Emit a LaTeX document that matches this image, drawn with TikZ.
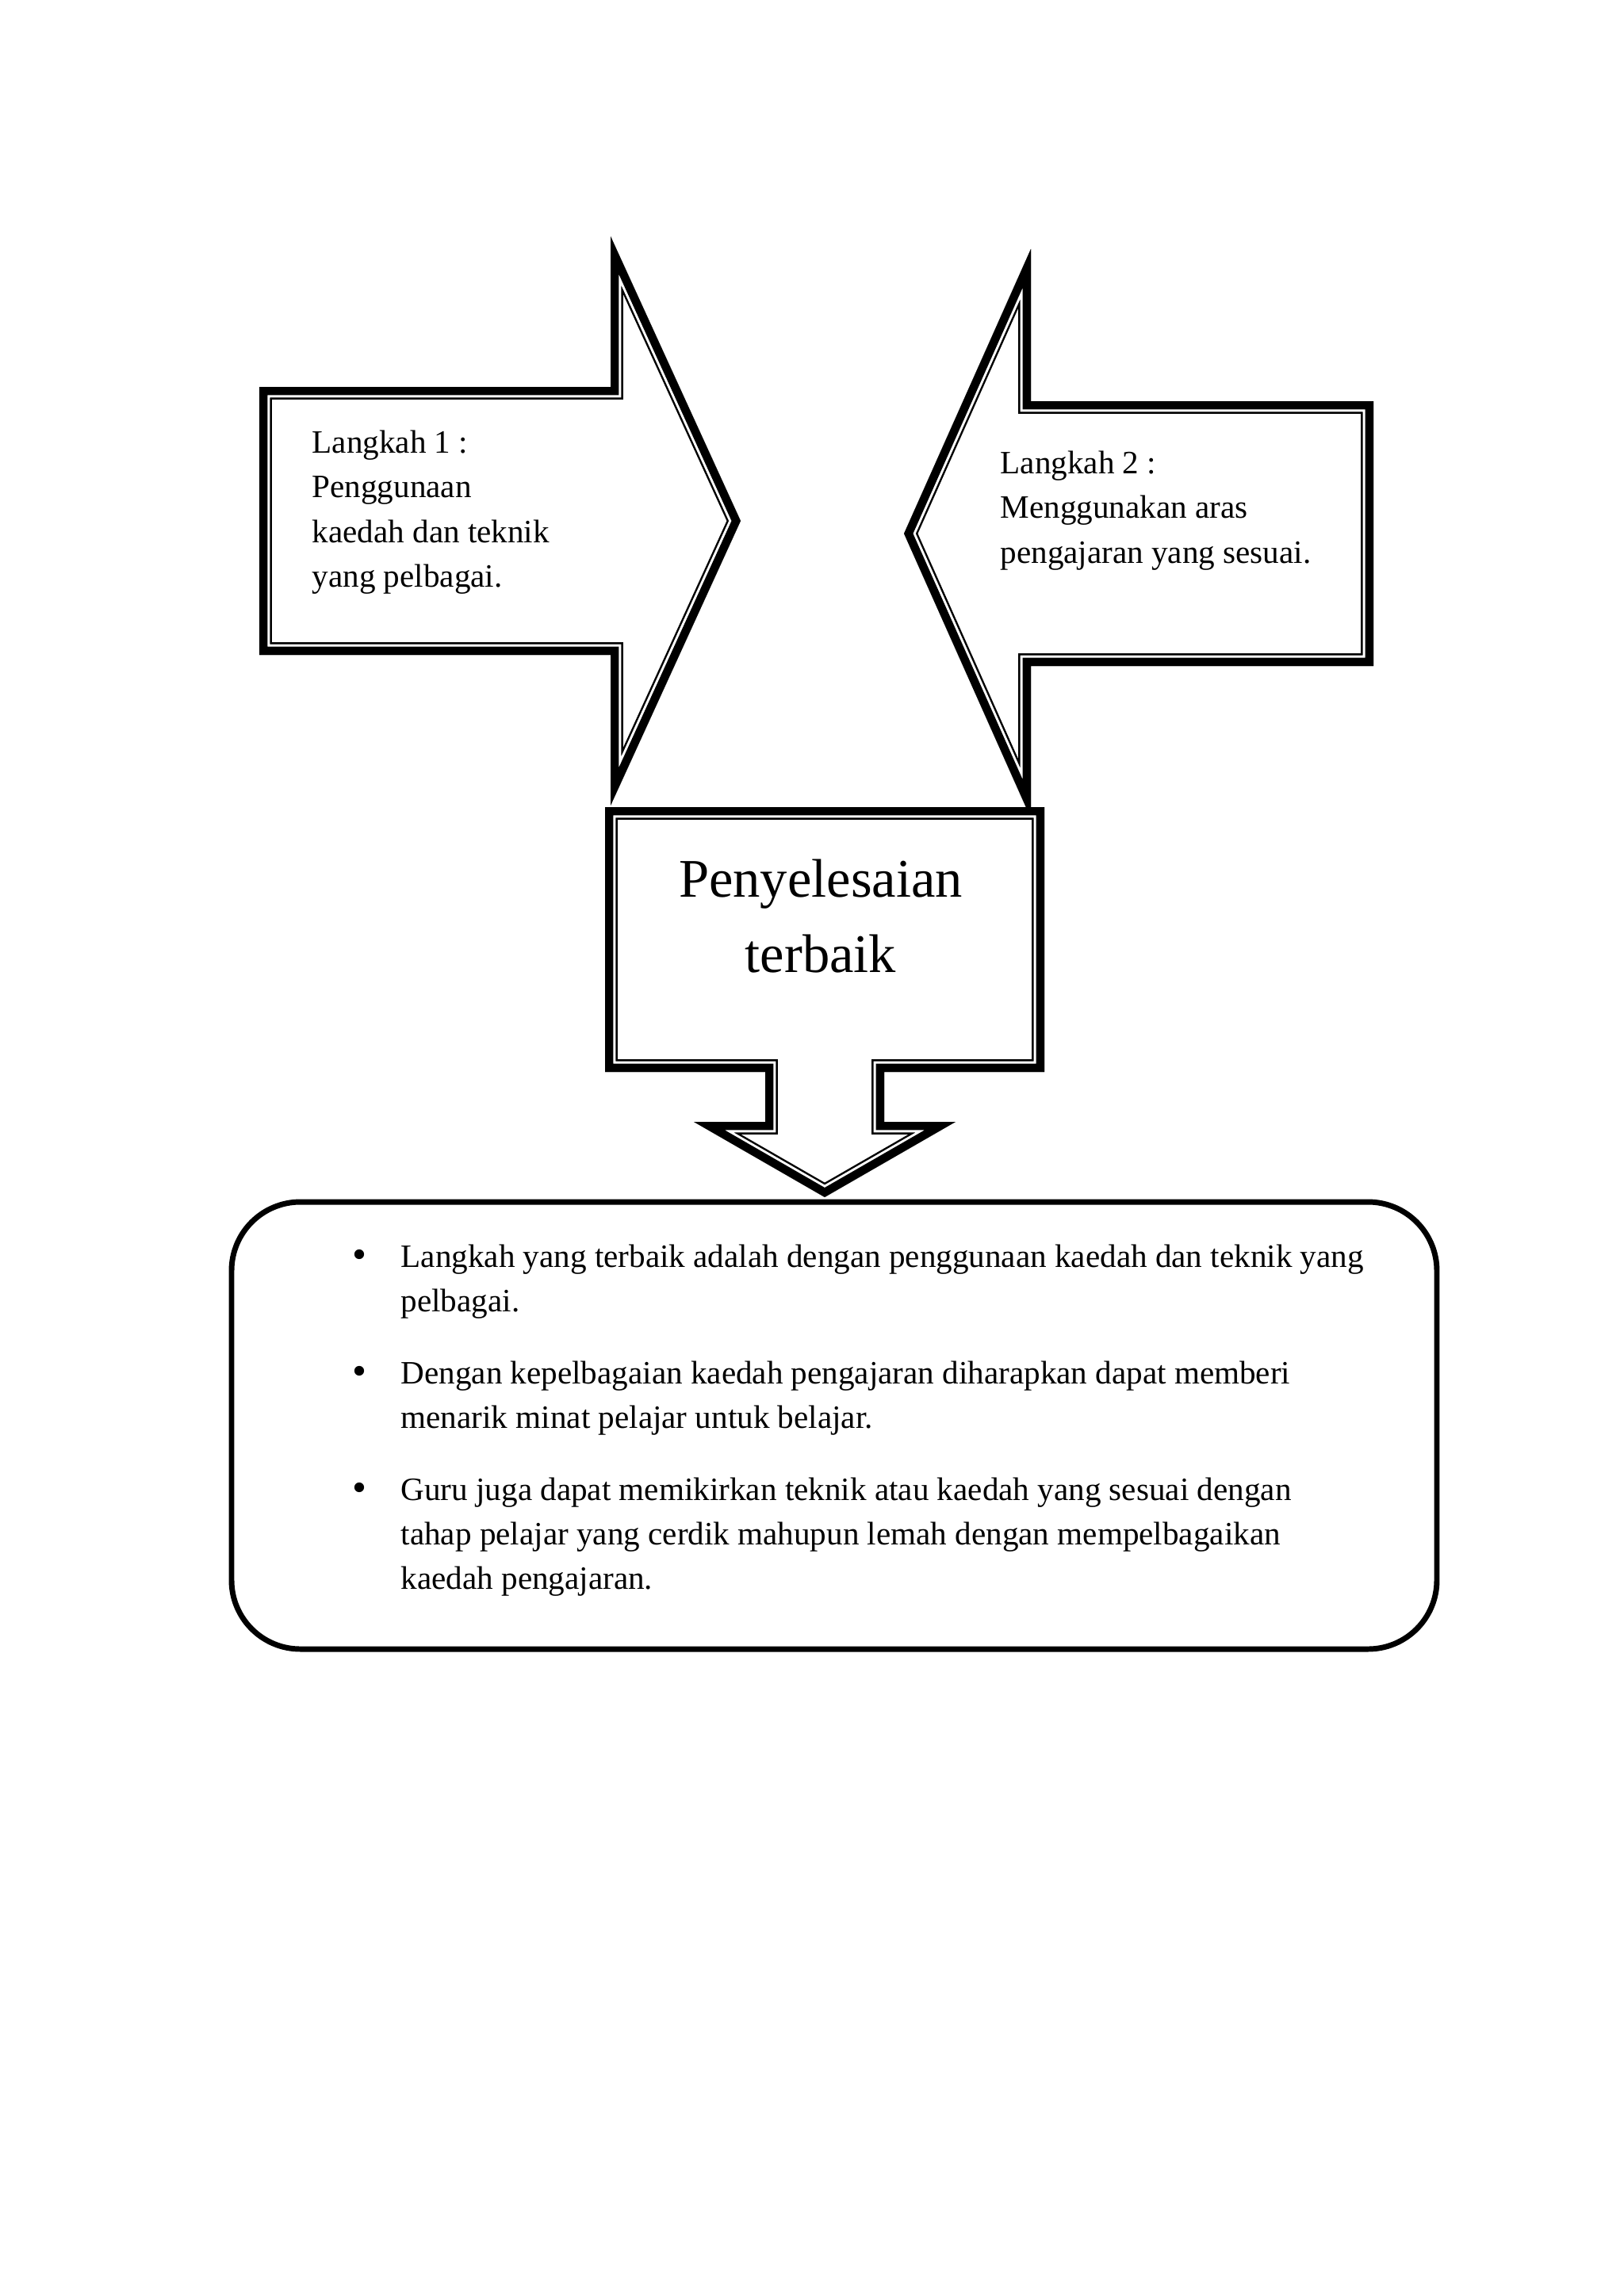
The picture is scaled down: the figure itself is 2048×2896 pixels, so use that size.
\documentclass[tikz,border=0pt]{standalone}
\usepackage{fontspec}
\setmainfont{Liberation Serif}
\newcommand\compoundshape[1]{%
  \fill[white] #1;
  \begin{scope}
    \clip #1;
    \draw[line width=9.30pt] #1;
    \draw[white,line width=7.85pt] #1;
    \draw[line width=6.10pt] #1;
  \end{scope}}
\tikzset{
  txt/.style={inner sep=0pt, anchor=base west, font=\fontsize{12}{14}\selectfont},
  bigtxt/.style={inner sep=0pt, anchor=base, font=\fontsize{20}{24}\selectfont},
  bul/.style={inner sep=0pt, anchor=base, font=\fontsize{15}{17}\selectfont},
  roundbox/.style={line width=2.03pt, rounded corners=8.9mm}
}
\begin{document}
\begin{tikzpicture}[x=0.0102539cm, y=-0.0102539cm, line join=miter, miter limit=20]
\useasboundingbox (0,0) rectangle (2048,2896);
\fill[white] (0,0) rectangle (2048,2896);

% Left arrow (Langkah 1)
\compoundshape{(327,488) -- (770,488) -- (770,298) -- (934,657) -- (770,1016) -- (770,826) -- (327,826) -- cycle}
% Right arrow (Langkah 2)
\compoundshape{(1732,506) -- (1300,506) -- (1300,314) -- (1140,673) -- (1300,1032) -- (1300,840) -- (1732,840) -- cycle}
% Centre down arrow
\compoundshape{(763,1018) -- (1317,1018) -- (1317,1352) -- (1115,1352) -- (1115,1415) -- (1205,1415) -- (1040,1510) -- (875,1415) -- (965,1415) -- (965,1352) -- (763,1352) -- cycle}
% Rounded box
\draw[roundbox] (292,1516) rectangle (1812,2080);

% Texts left arrow
\node[txt] (la) at (393,571) {Langkah 1 :};
\node[txt] (lb) at (393,627.5) {Penggunaan};
\node[txt] (lc) at (393,684) {kaedah dan teknik};
\node[txt] (ld) at (393,740.5) {yang pelbagai.};
% Texts right arrow
\node[txt] (ra) at (1261,597) {Langkah 2 :};
\node[txt] (rb) at (1261,653.5) {Menggunakan aras};
\node[txt] (rc) at (1261,710) {pengajaran yang sesuai.};
% Centre text
\node[bigtxt] (ca) at (1035,1131) {Penyelesaian};
\node[bigtxt] (cb) at (1035,1226) {terbaik};
% Bullets
\node[bul] (b1) at (453,1599) {•};
\node[txt] (t1a) at (505,1598) {Langkah yang terbaik adalah dengan penggunaan kaedah dan teknik yang};
\node[txt] (t1b) at (505,1654) {pelbagai.};
\node[bul] (b2) at (453,1746) {•};
\node[txt] (t2a) at (505,1745) {Dengan kepelbagaian kaedah pengajaran diharapkan dapat memberi};
\node[txt] (t2b) at (505,1801) {menarik minat pelajar untuk belajar.};
\node[bul] (b3) at (453,1893) {•};
\node[txt] (t3a) at (505,1892) {Guru juga dapat memikirkan teknik atau kaedah yang sesuai dengan};
\node[txt] (t3b) at (505,1948) {tahap pelajar yang cerdik mahupun lemah dengan mempelbagaikan};
\node[txt] (t3c) at (505,2004) {kaedah pengajaran.};
\end{tikzpicture}
\end{document}
